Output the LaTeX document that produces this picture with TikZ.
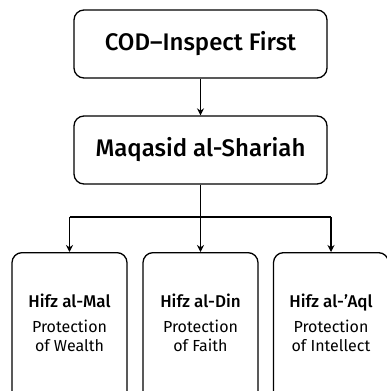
\documentclass[tikz,border=0pt]{standalone}
\usepackage{fontspec}
\setmainfont{Fira Sans}[BoldFont={Fira Sans Medium}]
\usetikzlibrary{arrows.meta, positioning}

\tikzset{
    box/.style={draw, line width=1.3pt, rounded corners=10pt, align=center, inner sep=0pt},
    topbox/.style={box, minimum width=253pt, minimum height=68pt, font=\bfseries\fontsize{24}{29}\selectfont},
    leafbox/.style={box, anchor=north, minimum width=115pt, minimum height=170pt, font=\fontsize{16}{19}\selectfont},
    link/.style={line width=1.3pt, -{Stealth[length=7pt,width=7pt]}}
}
\newcommand{\leafname}[1]{{\bfseries\fontsize{17}{20}\selectfont #1}}

\begin{document}
\begin{tikzpicture}[x=1pt, y=-1pt]
    \useasboundingbox (0,0) rectangle (387,391);
    \node[topbox] (cod) at (200.5,44) {COD--Inspect First};
    \node[topbox] (maqasid) at (200.5,150) {Maqasid al-Shariah};
    \draw[link] (cod) -- (maqasid);

    \node[leafbox] (mal) at (69.5,252) {\leafname{Hifz al-Mal}\\[6pt]Protection\\of Wealth\\[10pt]\mbox{}};
    \node[leafbox] (din) at (200.5,252) {\leafname{Hifz al-Din}\\[6pt]Protection\\of Faith\\[10pt]\mbox{}};
    \node[leafbox] (aql) at (331,252) {\leafname{Hifz al-’Aql}\\[6pt]Protection\\of Intellect\\[10pt]\mbox{}};

    % branches
    \coordinate (fork) at (200.5,217);
    \draw[line width=1.3pt] (maqasid) -- (fork);
    \draw[line width=1.3pt] (mal.north |- fork) -- (aql.north |- fork);
    \foreach \leaf in {mal,din,aql}
        \draw[link] (\leaf.north |- fork) -- (\leaf.north);
\end{tikzpicture}
\end{document}
